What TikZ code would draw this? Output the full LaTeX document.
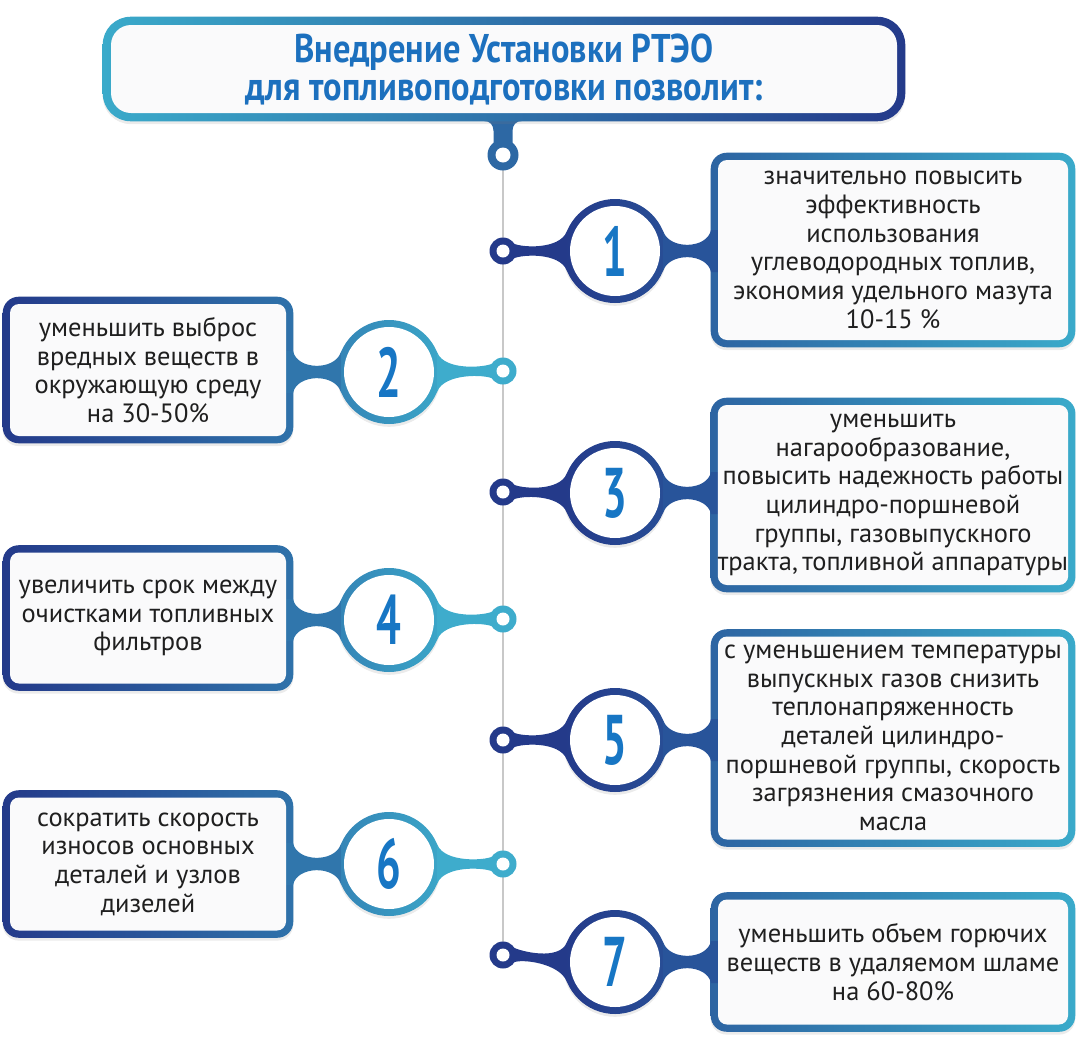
\documentclass[tikz,border=0pt]{standalone}
\usepackage{fontspec}
\setmainfont{PT Sans}
\newfontfamily\headfont[FakeStretch=0.86]{PT Sans}
\newfontfamily\digitfont[FakeStretch=0.62]{PT Sans}
\usetikzlibrary{positioning,calc,backgrounds,shadows}
\definecolor{rtnavy}{RGB}{36,58,138}
\definecolor{rtmid}{RGB}{45,104,164}
\definecolor{rtteal}{RGB}{58,170,202}
\definecolor{rtnum}{RGB}{23,118,196}
\definecolor{rthead}{RGB}{28,112,190}
\definecolor{rtline}{RGB}{200,200,200}
\definecolor{rtfill}{RGB}{250,250,251}
% colours of the right (r) and left (l) items
\definecolor{ringr}{RGB}{36,58,138}
\definecolor{ringl}{RGB}{62,172,204}
\definecolor{circAr}{RGB}{36,58,138}
\definecolor{circBr}{RGB}{40,78,150}
\definecolor{circAl}{RGB}{52,132,182}
\definecolor{circBl}{RGB}{59,166,200}
\definecolor{neckr}{RGB}{40,84,154}
\definecolor{neckl}{RGB}{48,118,172}
\definecolor{edgeAr}{RGB}{45,100,162}
\definecolor{edgeBr}{RGB}{58,170,202}
\definecolor{edgeAl}{RGB}{36,58,138}
\definecolor{edgeBl}{RGB}{47,114,170}
\newlength\unitpx
\setlength\unitpx{0.025cm}

\begin{document}
\begin{tikzpicture}[x=0.025cm,y=0.025cm,
    txtbox/.style={fill=rtfill, rounded corners=9\unitpx, align=center, inner sep=0pt,
      font=\fontsize{18.8}{20.4}\selectfont, text=black!88},
    numcirc/.style={circle, fill=white, minimum size=90\unitpx, inner sep=0pt,
      font=\digitfont\bfseries\fontsize{50}{50}\selectfont, text=rtnum},
    hole/.style={circle, fill=white, minimum size=13\unitpx, inner sep=0pt},
    shadowed/.style={drop shadow={shadow xshift=0pt, shadow yshift=-2pt, opacity=.16}}]
  \useasboundingbox (0,0) rectangle (1080,-1060);

  % heading
  \node[txtbox, minimum width=786\unitpx, minimum height=88\unitpx, rounded corners=20\unitpx,
        font=\headfont\bfseries\fontsize{28.5}{27}\selectfont, text=rthead] (head) at (504,-69)
        {Внедрение Установки РТЭО\\для топливоподготовки позволит:};
  \coordinate (r0) at (503,-155);

  % boxes on the right
  \node[txtbox, minimum width=350\unitpx, minimum height=180\unitpx] (b1) at (893,-250)
    {значительно повысить\\эффективность\\использования\\углеводородных топлив,\\экономия удельного мазута\\10-15 \%};
  \node[txtbox, minimum width=350\unitpx, minimum height=180\unitpx] (b3) at (893,-495)
    {уменьшить\\нагарообразование,\\повысить надежность работы\\цилиндро-поршневой\\группы, газовыпускного\\тракта,\,топливной аппаратуры};
  \node[txtbox, minimum width=350\unitpx, minimum height=203\unitpx] (b5) at (893,-738)
    {с уменьшением температуры\\выпускных газов снизить\\теплонапряженность\\деталей цилиндро-\\поршневой группы, скорость\\загрязнения смазочного\\масла};
  \node[txtbox, minimum width=350\unitpx, minimum height=125\unitpx] (b7) at (893,-962)
    {уменьшить объем горючих\\веществ в удаляемом шламе\\на 60-80\%};

  % boxes on the left
  \node[txtbox, minimum width=276\unitpx, minimum height=132\unitpx] (b2) at (148,-370)
    {уменьшить выброс\\вредных веществ в\\окружающую среду\\на 30-50\%};
  \node[txtbox, minimum width=276\unitpx, minimum height=131\unitpx] (b4) at (148,-618)
    {увеличить срок между\\очистками топливных\\фильтров};
  \node[txtbox, minimum width=276\unitpx, minimum height=133\unitpx] (b6) at (148,-864)
    {сократить скорость\\износов основных\\деталей и узлов\\дизелей};

  % numbers
  \node[numcirc] (n1) at (615,-251) {1};
  \node[numcirc] (n2) at (389,-372) {2};
  \node[numcirc] (n3) at (615,-493) {3};
  \node[numcirc] (n4) at (389,-620) {4};
  \node[numcirc] (n5) at (615,-740) {5};
  \node[numcirc] (n6) at (389,-864) {6};
  \node[numcirc] (n7) at (615,-962) {7};

  % small rings on the axis
  \coordinate (r1) at (503,-251);
  \coordinate (r2) at (503,-371);
  \coordinate (r3) at (503,-492);
  \coordinate (r4) at (503,-619);
  \coordinate (r5) at (503,-740);
  \coordinate (r6) at (503,-864);
  \coordinate (r7) at (503,-955);

  \begin{scope}[on background layer]
    \draw[rtline, line width=2\unitpx] (r0) -- (r7);
    % stem under the heading
    \fill[rtmid] ($(r0)+(-19,38)$) -- ($(r0)+(-19,34)$)
      .. controls ($(r0)+(-13,34)$) and ($(r0)+(-9.5,30)$) .. ($(r0)+(-9.5,24)$)
      -- ($(r0)+(-9.5,0)$) -- ($(r0)+(9.5,0)$) -- ($(r0)+(9.5,24)$)
      .. controls ($(r0)+(9.5,30)$) and ($(r0)+(13,34)$) .. ($(r0)+(19,34)$)
      -- ($(r0)+(19,38)$) -- cycle;
    \fill[rtmid] (r0) circle (15.5);
    \node[hole, minimum size=15\unitpx] (h0) at (r0) {};
    \shade[left color=rtteal, right color=rtnavy, rounded corners=28\unitpx, shadowed]
      ($(head.south west)+(-8,-8)$) rectangle ($(head.north east)+(8,8)$);

    \foreach \i/\s/\side in {1/1/r,2/-1/l,3/1/r,4/-1/l,5/1/r,6/-1/l,7/1/r} {
      \shade[left color=edgeA\side, right color=edgeB\side, rounded corners=16\unitpx, shadowed]
        ($(b\i.south west)+(-7,-7)$) rectangle ($(b\i.north east)+(7,7)$);
      \shade[left color=circA\side, right color=circB\side, shadowed] (n\i) circle (52);
      % neck between number and box
      \fill[neck\side] ($(n\i)+({\s*48.2},19.5)$)
        .. controls ($(n\i)+({\s*55},1)$) and ($(n\i)+({\s*92},2)$) .. ($(n\i)+({\s*96},21)$)
        -- ($(n\i)+({\s*104},21)$) -- ($(n\i)+({\s*104},-21)$) -- ($(n\i)+({\s*96},-21)$)
        .. controls ($(n\i)+({\s*92},-2)$) and ($(n\i)+({\s*55},-1)$) .. ($(n\i)+({\s*48.2},-19.5)$)
        -- cycle;
      % neck between ring and number
      \fill[ring\side] ($(r\i)+({\s*10.6},7.5)$)
        .. controls ($(r\i)+({\s*18},3.5)$) and ($(n\i)+({\s*(-55.7)},1)$) .. ($(n\i)+({\s*(-48.2)},19.5)$)
        -- ($(n\i)+({\s*(-48.2)},-19.5)$)
        .. controls ($(n\i)+({\s*(-55.7)},-1)$) and ($(r\i)+({\s*18},-3.5)$) .. ($(r\i)+({\s*10.6},-7.5)$)
        -- cycle;
      \fill[ring\side] (r\i) circle (13.5);
      \node[hole] (h\i) at (r\i) {};
    }
  \end{scope}
\end{tikzpicture}
\end{document}
